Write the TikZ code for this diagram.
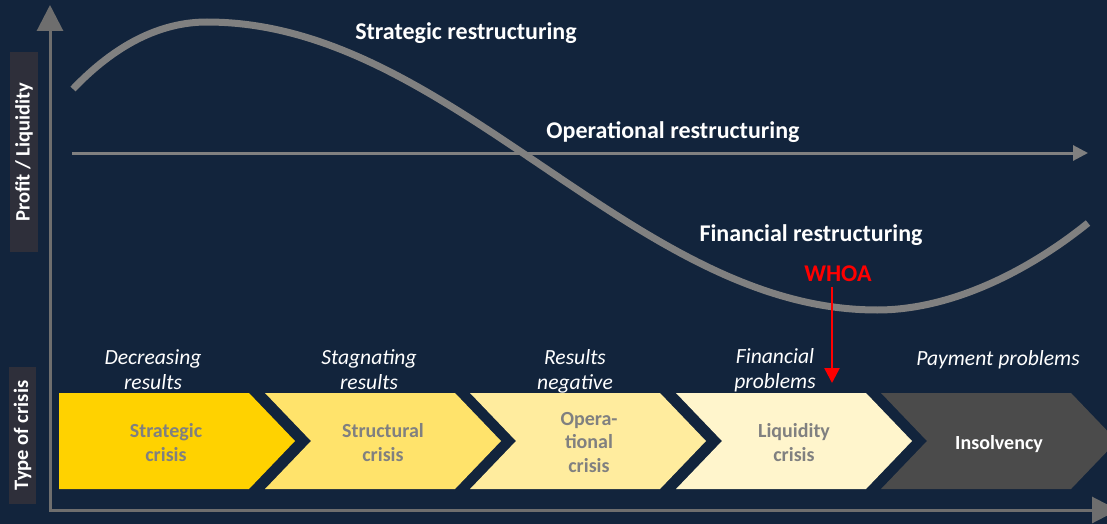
\documentclass[tikz,border=0pt]{standalone}
\usepackage{fontspec}
\setmainfont{Carlito}
\usetikzlibrary{arrows.meta}

\definecolor{bg}{HTML}{12243C}
\definecolor{axisgray}{HTML}{6E6E6E}
\definecolor{curvegray}{HTML}{808080}
\definecolor{labelbox}{HTML}{2E2F3A}
\definecolor{chevA}{HTML}{FFD200}
\definecolor{chevB}{HTML}{FFE36B}
\definecolor{chevC}{HTML}{FFEC9E}
\definecolor{chevD}{HTML}{FFF5CC}
\definecolor{chevE}{HTML}{4B4B4B}
\definecolor{whoared}{HTML}{FF0000}

\tikzset{
  heading/.style={text=white, inner sep=0pt, anchor=base,
    font=\bfseries\fontsize{24}{28}\selectfont},
  phase/.style={text=white, inner sep=0pt, anchor=base, align=center,
    font=\itshape\fontsize{21.6}{25}\selectfont},
  crisis/.style={text=curvegray, inner sep=0pt, anchor=base, align=center,
    font=\bfseries\fontsize{20}{23.5}\selectfont},
  axislabel/.style={fill=labelbox, text=white, rotate=90, inner sep=0pt,
    font=\bfseries\fontsize{20.5}{24}\selectfont},
  axisline/.style={draw=axisgray, line width=3pt},
}

\begin{document}
\begin{tikzpicture}[x=1pt, y=-1pt]
  % canvas
  \fill[bg] (0,0) rectangle (1107,524);
  \useasboundingbox (0,0) rectangle (1107,524);

  % axis labels on dark boxes
  \node[axislabel, minimum width=200pt, minimum height=28pt] (ylab) at (24,152) {Profit / Liquidity};
  \node[axislabel, minimum width=137pt, minimum height=27pt] (clab) at (22.5,435.5) {Type of crisis};

  % axes
  \coordinate (ytip) at (50,5);
  \coordinate (origin) at (50,510);
  \coordinate (xtip) at (1118,510);
  \draw[axisline, {Triangle[length=26pt,width=26pt]}-{Triangle[length=26pt,width=26pt]}]
    (ytip) -- (origin) -- (xtip);

  % restructuring curve: rise, half sine wave down, rise again
  \coordinate (c0) at (73,89);
  \coordinate (cpeak) at (207,22);
  \coordinate (ctrough) at (877,310);
  \coordinate (c1) at (1088,223);
  \draw[curvegray, line width=7pt, line join=round]
    (c0) .. controls (115,45) and (160,22) .. (cpeak)
      -- plot[domain=207:877, samples=90] (\x, {166-144*cos(deg((\x-207)/670*pi))})
      -- (ctrough)
      .. controls (960,310) and (1040,262) .. (c1);

  % operational line
  \coordinate (op0) at (72,153);
  \coordinate (op1) at (1088,153);
  \draw[curvegray, line width=3pt, -{Triangle[length=15pt,width=15pt]}] (op0) -- (op1);

  % headings
  \node[heading] (strat) at (466,40) {Strategic restructuring};
  \node[heading] (oper) at (673,138) {Operational restructuring};
  \node[heading] (fin) at (811,241) {Financial restructuring};
  \node[heading, text=whoared] (whoa) at (838,281) {WHOA};

  % WHOA arrow
  \coordinate (w0) at (832,287);
  \coordinate (w1) at (832,383);
  \draw[whoared, line width=2.5pt, -{Triangle[length=15pt,width=15pt]}] (w0) -- (w1);

  % crisis chevrons
  \fill[chevA] (59,393) -- (249,393) -- (295,441) -- (249,489) -- (59,489) -- cycle;
  \fill[chevB] (265,393) -- (455,393) -- (501,441) -- (455,489) -- (265,489) -- (311,441) -- cycle;
  \fill[chevC] (470,393) -- (660,393) -- (706,441) -- (660,489) -- (470,489) -- (516,441) -- cycle;
  \fill[chevD] (676,393) -- (866,393) -- (912,441) -- (866,489) -- (676,489) -- (722,441) -- cycle;
  \fill[chevE] (881,393) -- (1071,393) -- (1117,441) -- (1071,489) -- (881,489) -- (927,441) -- cycle;

  % crisis names (anchor on the last line's baseline)
  \node[crisis] (k1) at (166,461) {Strategic\\crisis};
  \node[crisis] (k2) at (383,461) {Structural\\crisis};
  \node[crisis] (k3) at (589,472) {Opera-\\tional\\crisis};
  \node[crisis] (k4) at (794,461) {Liquidity\\crisis};
  \node[crisis, text=white] (k5) at (999,449) {Insolvency};

  % phase descriptions (anchor on the last line's baseline)
  \node[phase] (p1) at (153,389) {Decreasing\\results};
  \node[phase] (p2) at (369,389) {Stagnating\\results};
  \node[phase] (p3) at (575,389) {Results\\negative};
  \node[phase] (p4) at (775,388) {Financial\\problems};
  \node[phase] (p5) at (998,365) {Payment problems};
\end{tikzpicture}
\end{document}
